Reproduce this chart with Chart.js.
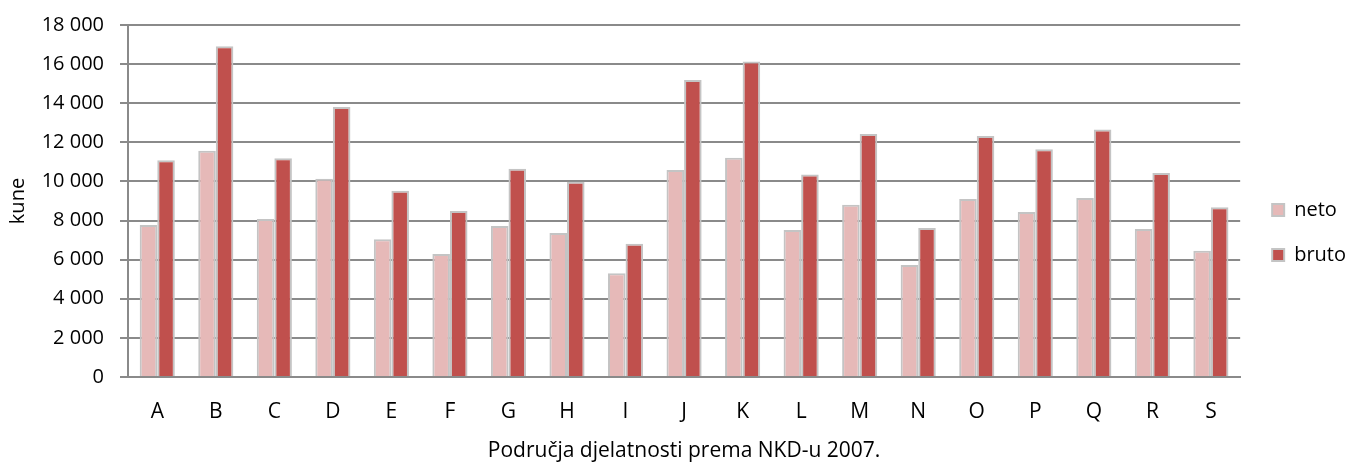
<!DOCTYPE html>
<html>
<head>
    <meta charset="utf-8">
    <script src="https://cdn.jsdelivr.net/npm/chart.js"></script>
    <style>
        body { margin: 0; background: #fff; }
        #wrap { width: 1349px; height: 464px; }
    </style>
</head>
<body>
    <div id="wrap"><canvas id="myChart"></canvas></div>
    <script>
        const categories = ['A', 'B', 'C', 'D', 'E', 'F', 'G', 'H', 'I', 'J', 'K', 'L', 'M', 'N', 'O', 'P', 'Q', 'R', 'S']
        const neto = [7770, 11570, 8080, 10140, 7040, 6290, 7720, 7370, 5310, 10580, 11210, 7520, 8810, 5730, 9100, 8440, 9150, 7570, 6460]
        const bruto = [11090, 16910, 11180, 13810, 9530, 8490, 10650, 9990, 6820, 15190, 16130, 10360, 12420, 7620, 12320, 11640, 12660, 10430, 8680]
        const seriesNames = ['neto', 'bruto']
        const yTicks = [0, 2000, 4000, 6000, 8000, 10000, 12000, 14000, 16000, 18000]

        Chart.defaults.font.family = '"Open Sans", sans-serif'
        Chart.defaults.font.size = 20
        Chart.defaults.color = '#000'

        // nudge the legend a bit, like the original
        const legendShift = {
            id: 'legendShift',
            afterLayout(chart) {
                const lg = chart.legend
                lg.left += 7; lg.right += 7
                lg.top -= 12; lg.bottom -= 12
            }
        }

        const ctx = document.getElementById('myChart')
        const chartData = {
            labels: categories,
            datasets: [{
                label: seriesNames[0],
                data: neto,
                backgroundColor: '#e6b9b8',
                borderColor: '#c4c4c4',
                borderWidth: 2
            }, {
                label: seriesNames[1],
                data: bruto,
                backgroundColor: '#c0504d',
                borderColor: '#c4c4c4',
                borderWidth: 2
            }]
        }

        const myChart = new Chart(ctx, {
            type: 'bar',
            data: chartData,
            plugins: [legendShift],
            options: {
                responsive: true,
                maintainAspectRatio: false,
                animation: false,
                datasets: {
                    bar: { categoryPercentage: 0.6, barPercentage: 1 }
                },
                layout: { padding: { top: 25, left: 4, right: 0, bottom: 0 } },
                plugins: {
                    tooltip: { enabled: false },
                    legend: {
                        position: 'right',
                        labels: {
                            boxWidth: 12,
                            boxHeight: 12,
                            padding: 25,
                            font: { size: 20 }
                        }
                    }
                },
                scales: {
                    x: {
                        afterFit: axis => { axis.height = 87 },
                        grid: { display: false },
                        border: { color: '#8a8a8a', width: 2 },
                        ticks: { padding: 14, font: { size: 21 } },
                        title: {
                            display: true,
                            text: 'Područja djelatnosti prema NKD-u 2007.',
                            font: { size: 21 },
                            padding: { top: -3, bottom: 0 }
                        }
                    },
                    y: {
                        min: 0,
                        max: 18000,
                        afterFit: axis => {
                            axis.width = 124
                            axis.paddingTop = 0
                            axis.paddingBottom = 0
                        },
                        afterBuildTicks: axis => {
                            axis.ticks = yTicks.map(v => ({ value: v }))
                        },
                        grid: { color: '#8a8a8a', lineWidth: 2, tickLength: 8 },
                        border: { color: '#8a8a8a', width: 2 },
                        ticks: {
                            padding: 16,
                            font: { size: 20 },
                            callback: v => v >= 1000 ? Math.floor(v / 1000) + ' ' + String(v % 1000).padStart(3, '0') : String(v)
                        },
                        title: {
                            display: true,
                            text: 'kune',
                            font: { size: 20 },
                            padding: { top: 2, bottom: 0 }
                        }
                    }
                }
            }
        })
    </script>
</body>
</html>
